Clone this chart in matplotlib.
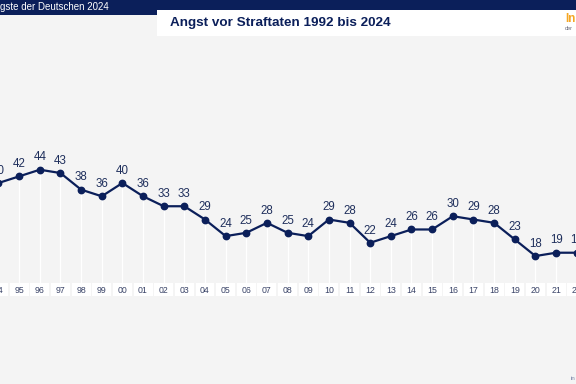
#!/usr/bin/env python3
"""Angst vor Straftaten 1992 bis 2024 - line chart (cropped view)."""

import matplotlib
matplotlib.use("Agg")
import matplotlib.pyplot as plt
from matplotlib.patches import Rectangle
import matplotlib.transforms as mtransforms

plt.rcParams['font.family'] = ['Liberation Sans', 'DejaVu Sans']

# visible part of the series (percent)
years = list(range(1994, 2023))
values = [40, 42, 44, 43, 38, 36, 40, 36, 33, 33, 29, 24, 25, 28, 25, 24,
          29, 28, 22, 24, 26, 26, 30, 29, 28, 23, 18, 19, 19]
year_labels = [f"{y % 100:02d}" for y in years]

NAVY = '#0b1f5a'
BG = '#f4f4f4'
TEXT = '#1f2f5c'

W, H = 576, 384
fig = plt.figure(figsize=(W / 100, H / 100), dpi=100, facecolor=BG)

def fx(px):
    return px / W

def fy(py):
    return 1 - py / H

# header
fig.patches.append(Rectangle((0, fy(10)), 1, 10 / H, transform=fig.transFigure,
                             facecolor=NAVY, edgecolor='none', zorder=0))
fig.patches.append(Rectangle((0, fy(15)), fx(157), 15 / H, transform=fig.transFigure,
                             facecolor=NAVY, edgecolor='none', zorder=0))
fig.patches.append(Rectangle((fx(157), fy(36)), 1 - fx(157), 26 / H, transform=fig.transFigure,
                             facecolor='white', edgecolor='none', zorder=0))
fig.text(fx(0), fy(7), "gste der Deutschen 2024", color='white', fontsize=7,
         ha='left', va='center')
fig.text(fx(170), fy(23), "Angst vor Straftaten 1992 bis 2024", color=NAVY,
         fontsize=9.7, fontweight='bold', ha='left', va='center')
fig.text(fx(565), fy(19), "In", color='#f5a623', fontsize=8.5, fontweight='bold',
         ha='left', va='center')
fig.text(fx(565), fy(29), "der", color='#667', fontsize=4, ha='left', va='center')
fig.text(fx(571), fy(378), "in", color='#7a86a8', fontsize=4.5, ha='left', va='center')

# plot area
ax = fig.add_axes([0, fy(283), 1, (283 - 40) / H])
ax.set_facecolor(BG)
ax.patch.set_alpha(0)
for s in ax.spines.values():
    s.set_visible(False)
ax.set_xticks([])
ax.set_yticks([])

x0 = 1994 + 1.5 / 20.65
x1 = 1994 + 577.5 / 20.65
ax.set_xlim(x0, x1)
ylo = 40 - 100 / 3.32
yhi = 40 + 143 / 3.32
ax.set_ylim(ylo, yhi)

# white drop lines
ax.vlines(years, ylo, values, color='white', linewidth=0.9, zorder=1)

ax.plot(years, values, color=NAVY, linewidth=1.6, marker='o', markersize=4.6,
        zorder=3, clip_on=False)

for y, v in zip(years, values):
    ax.annotate(str(v), (y, v), xytext=(0, 8.8), textcoords='offset points',
                ha='center', va='center', fontsize=8.3, color=TEXT,
                annotation_clip=False)

# year label boxes below the plot
trans = mtransforms.blended_transform_factory(ax.transData, ax.transAxes)
box_h = 13 / (283 - 40)
for y, lab in zip(years, year_labels):
    ax.add_patch(Rectangle((y - 0.46, -box_h), 0.92, box_h, transform=trans,
                           facecolor='white', edgecolor='none', clip_on=False))
    ax.text(y, -box_h / 2 - 0.004, lab, transform=trans, ha='center', va='center',
            fontsize=6.3, color='#3a4468', clip_on=False)

fig.savefig('out.png', dpi=100, facecolor=BG)
